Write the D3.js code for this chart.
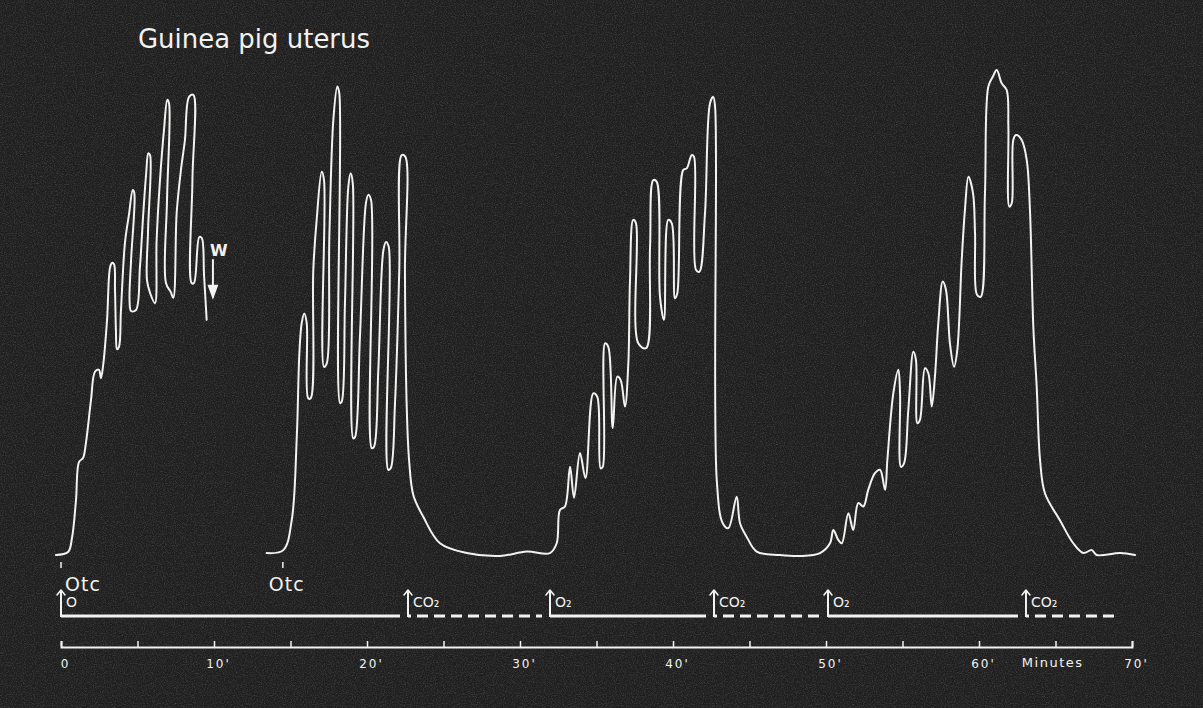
<!DOCTYPE html>
<html>
<head>
<meta charset="utf-8">
<script src="https://cdn.jsdelivr.net/npm/d3@7"></script>
<style>
  html, body { margin: 0; padding: 0; background: #1f1f1f; }
  svg { display: block; }
</style>
</head>
<body>
<svg id="chart" width="1203" height="708"></svg>
<script>
// ---- data -------------------------------------------------------------
const title = "Guinea pig uterus";

// Kymograph record: [time in minutes, lever height in arbitrary units]
// First oxytocin response, interrupted by washout (W)
const run1 = [
  [-0.33, 0.2], [0.46, 0.8], [0.72, 3.7], [0.98, 11.4], [1.18, 19.2], [1.44, 20.0],
  [1.63, 23.1], [1.96, 31.8], [2.22, 37.6], [2.48, 38.0], [2.61, 36.3], [2.75, 38.8],
  [3.01, 48.2], [3.20, 58.8], [3.33, 59.8], [3.46, 59.6], [3.53, 54.3], [3.59, 46.1],
  [3.66, 42.2], [3.79, 42.7], [3.92, 50.2], [4.18, 63.9], [4.44, 69.6], [4.69, 74.7],
  [4.79, 74.1], [4.58, 60.4], [4.48, 52.2], [4.58, 50.0], [4.90, 50.2], [5.16, 59.0],
  [5.38, 70.0], [5.56, 77.8], [5.71, 82.2], [5.82, 81.8], [5.69, 66.5], [5.62, 56.3],
  [5.82, 53.7], [6.14, 51.6], [6.25, 64.5], [6.47, 76.7], [6.73, 86.9], [6.95, 93.1],
  [7.06, 92.4], [6.93, 72.7], [6.86, 55.7], [7.17, 53.9], [7.34, 52.7], [7.56, 70.0],
  [7.84, 78.8], [8.10, 84.9], [8.37, 93.7], [8.65, 94.1], [8.59, 76.7], [8.54, 55.7],
  [8.69, 55.7], [9.04, 65.1], [9.20, 64.9], [9.35, 57.3], [9.52, 48.2]
];

// Second oxytocin response, then alternating O2 / CO2 gassing
const run2 = [
  [13.44, 0.6], [14.53, 1.2], [15.08, 7.3], [15.41, 24.3], [15.58, 41.4], [15.73, 47.5],
  [15.90, 49.5], [16.06, 47.5], [16.16, 32.2], [16.32, 32.2], [16.49, 58.4], [16.71, 68.6],
  [17.04, 78.4], [17.19, 76.7], [17.19, 38.6], [17.37, 39.3], [17.54, 65.2], [17.80, 89.0],
  [18.06, 95.8], [18.19, 94.4], [18.24, 31.2], [18.35, 31.5], [18.56, 51.6], [18.78, 75.4],
  [18.93, 78.1], [19.07, 76.1], [19.10, 24.0], [19.22, 24.3], [19.54, 44.8], [19.93, 72.0],
  [20.08, 73.7], [20.26, 72.7], [20.31, 22.0], [20.46, 22.3], [20.74, 38.0], [21.07, 62.4],
  [21.24, 64.1], [21.42, 63.1], [21.39, 17.6], [21.55, 17.9], [21.83, 31.2], [22.11, 58.4],
  [22.27, 81.8], [22.50, 81.5], [22.48, 58.4], [22.59, 31.2], [22.75, 19.6], [23.03, 12.4],
  [23.68, 8.0], [24.77, 2.6], [26.52, 0.6], [28.69, 0.0], [30.44, 0.9], [31.96, 0.6],
  [32.40, 2.6], [32.61, 9.4], [32.94, 10.1], [33.27, 18.2], [33.53, 11.9], [33.92, 21.0],
  [34.28, 15.9], [34.79, 33.2], [35.05, 32.5], [35.27, 17.9], [35.41, 18.2], [35.56, 43.4],
  [35.77, 42.7], [36.06, 26.1], [36.36, 36.6], [36.58, 35.9], [36.86, 30.5], [37.08, 39.3],
  [37.19, 56.3], [37.40, 68.6], [37.58, 67.9], [37.73, 43.4], [38.24, 42.4], [38.50, 63.1],
  [38.71, 76.7], [38.93, 76.4], [39.15, 52.9], [39.41, 48.2], [39.69, 68.6], [39.92, 67.9],
  [40.13, 52.6], [40.28, 53.6], [40.67, 78.8], [40.90, 79.1], [41.22, 81.8], [41.37, 81.5],
  [41.50, 58.4], [41.72, 58.0], [42.09, 69.9], [42.42, 92.4], [42.63, 93.7], [42.75, 91.7],
  [42.86, 15.5], [43.25, 6.7], [43.62, 5.7], [44.16, 12.1], [44.38, 6.7], [44.82, 3.9],
  [45.47, 0.9], [46.99, 0.2], [48.30, 0.0], [49.61, 0.6], [50.26, 2.6], [50.48, 5.3],
  [50.80, 3.3], [51.03, 2.6], [51.46, 8.7], [51.78, 5.3], [52.11, 10.8], [52.44, 10.1],
  [52.76, 13.5], [53.20, 16.9], [53.53, 17.6], [53.86, 13.5], [54.01, 19.6], [54.40, 33.2],
  [54.73, 38.0], [54.84, 33.2], [54.90, 18.2], [55.10, 18.9], [55.38, 29.8], [55.71, 41.7],
  [55.88, 40.0], [55.97, 27.1], [56.14, 27.8], [56.47, 38.3], [56.69, 37.3], [56.91, 30.5],
  [57.12, 36.6], [57.34, 47.5], [57.63, 56.0], [57.84, 54.3], [58.10, 43.4], [58.37, 38.6],
  [58.58, 42.0], [58.87, 60.4], [59.08, 70.6], [59.31, 77.4], [59.61, 74.0], [59.74, 65.9],
  [59.87, 53.3], [60.11, 52.9], [60.39, 74.0], [60.61, 95.8], [60.90, 97.8], [61.16, 99.2],
  [61.48, 96.5], [61.81, 95.1], [61.92, 87.6], [61.98, 71.3], [62.14, 72.0], [62.24, 84.9],
  [62.42, 85.9], [62.79, 84.9], [63.12, 80.8], [63.33, 70.6], [63.55, 46.8], [63.77, 34.6],
  [63.99, 19.6], [64.31, 12.8], [65.29, 7.3], [66.16, 2.6], [66.82, 0.6], [67.37, 1.2],
  [67.69, 0.2], [69.22, 0.6], [70.20, 0.2]
];

// Oxytocin additions (minutes)
const oxytocinTimes = [0, 14.5];
const oxytocinLabel = "Otc";

// Gas changes: start times and labels; O2 drawn solid, CO2 dashed
const gasTimes  = [0, 22.68, 31.96, 42.68, 50.13, 63.07];
const gasLabels = ["O", "CO₂", "O₂", "CO₂", "O₂", "CO₂"];
const gasEnd = 69.2;

// Washout mark: time and the lever heights spanned by its arrow
const washoutTime = 9.93;
const washoutSpan = [60.4, 52.9];
const washoutLabel = "W";

// Time axis
const tickMinutes = d3.range(0, 71, 5);
const tickLabels  = ["0", "", "10'", "", "20'", "", "30'", "", "40'", "", "50'", "", "60'", "", "70'"];
const axisTitle = "Minutes";

// ---- drawing ----------------------------------------------------------
const W = 1203, H = 708;
const ink = "#f2f2f0";
const font = "'DejaVu Sans', 'Noto Sans', sans-serif";

const svg = d3.select("#chart");

// paper-like grain
const defs = svg.append("defs");
const grain = defs.append("filter").attr("id", "grain").attr("x", 0).attr("y", 0)
  .attr("width", "100%").attr("height", "100%");
grain.append("feTurbulence").attr("type", "fractalNoise").attr("baseFrequency", 0.9)
  .attr("numOctaves", 2).attr("seed", 7).attr("result", "n");
grain.append("feColorMatrix").attr("type", "matrix")
  .attr("values", "0 0 0 0 1  0 0 0 0 1  0 0 0 0 1  0 0 0 0.9 -0.38");

svg.append("rect").attr("width", W).attr("height", H).attr("fill", "#1f1f1f");
svg.append("rect").attr("width", W).attr("height", H).attr("filter", "url(#grain)")
  .attr("opacity", 0.35);

const x = d3.scaleLinear().domain([0, 70]).range([61, 1132]);
const y = d3.scaleLinear().domain([0, 100]).range([556, 66]);

// title
svg.append("text")
  .attr("x", 138).attr("y", 48)
  .attr("fill", ink)
  .attr("font-family", font)
  .attr("font-size", 26)
  .attr("textLength", 232)
  .attr("lengthAdjust", "spacingAndGlyphs")
  .text(title);

// traces
const line = d3.line()
  .x(d => x(d[0]))
  .y(d => y(d[1]))
  .curve(d3.curveCatmullRom.alpha(0.5));

svg.append("g").selectAll("path")
  .data([run1, run2])
  .join("path")
  .attr("d", line)
  .attr("fill", "none")
  .attr("stroke", ink)
  .attr("stroke-width", 2)
  .attr("stroke-linejoin", "round")
  .attr("stroke-linecap", "round");

// washout arrow
const wx = x(washoutTime);
const wy0 = y(washoutSpan[0]), wy1 = y(washoutSpan[1]);
const wg = svg.append("g").attr("stroke", ink).attr("fill", "none")
  .attr("stroke-width", 2).attr("stroke-linecap", "round");
wg.append("line").attr("x1", wx).attr("x2", wx).attr("y1", wy0).attr("y2", wy1);
wg.append("path")
  .attr("d", `M${wx - 4},${wy1 - 11} L${wx},${wy1} L${wx + 4},${wy1 - 11} Z`)
  .attr("fill", ink);
svg.append("text")
  .attr("x", wx + 6).attr("y", wy0 - 4)
  .attr("text-anchor", "middle")
  .attr("fill", ink).attr("font-family", font).attr("font-size", 16)
  .attr("font-weight", "bold")
  .text(washoutLabel);

// oxytocin marks
const otcY = 591;
oxytocinTimes.forEach((t, i) => {
  const ox = x(t);
  svg.append("line").attr("x1", ox).attr("x2", ox).attr("y1", 562).attr("y2", 568)
    .attr("stroke", ink).attr("stroke-width", 1.5);
  svg.append("text")
    .attr("x", i === 0 ? ox + 4 : ox - 14).attr("y", otcY)
    .attr("fill", ink).attr("font-family", font).attr("font-size", 19)
    .attr("letter-spacing", 1)
    .text(oxytocinLabel);
});

// gas signal line
const sigY = 616;
const gasData = gasTimes.map((t, i) => ({
  t, label: gasLabels[i],
  end: i + 1 < gasTimes.length ? gasTimes[i + 1] : gasEnd,
  last: i + 1 >= gasTimes.length,
  co2: gasLabels[i].startsWith("CO")
}));

const sg = svg.append("g");
gasData.forEach(d => {
  const x0 = x(d.t);
  const x1 = d.last ? x(d.end) : x(d.end) - 8;
  sg.append("line")
    .attr("x1", x0).attr("x2", x1).attr("y1", sigY).attr("y2", sigY)
    .attr("stroke", ink).attr("stroke-width", 3)
    .attr("stroke-dasharray", d.co2 ? "3,6,11,6,11,6,11,6,11,6,11,6,11,6,11,6,11,6,11,6,11,6,11,6,11,6" : null);
  // arrow up from the signal line
  sg.append("line").attr("x1", x0).attr("x2", x0).attr("y1", sigY + 1).attr("y2", sigY - 26)
    .attr("stroke", ink).attr("stroke-width", 2);
  sg.append("path")
    .attr("d", `M${x0 - 4},${sigY - 21} L${x0},${sigY - 26} L${x0 + 4},${sigY - 21}`)
    .attr("fill", "none").attr("stroke", ink).attr("stroke-width", 1.6)
    .attr("stroke-linecap", "round").attr("stroke-linejoin", "round");
  sg.append("text")
    .attr("x", x0 + 5).attr("y", sigY - 9)
    .attr("fill", ink).attr("font-family", font).attr("font-size", 14)
    .text(d.label);
});

// time axis, ticks pointing up
const axisY = 647;
const axis = d3.axisBottom(x)
  .tickValues(tickMinutes)
  .tickSizeInner(-6)
  .tickSizeOuter(-6)
  .tickPadding(12)
  .tickFormat((d, i) => tickLabels[i]);

const ag = svg.append("g")
  .attr("transform", `translate(0,${axisY})`)
  .call(axis);
ag.select(".domain").attr("stroke", ink).attr("stroke-width", 2);
ag.selectAll(".tick line").attr("stroke", ink).attr("stroke-width", 1.5);
ag.selectAll(".tick text")
  .attr("fill", ink)
  .attr("font-family", font)
  .attr("font-size", 12)
  .attr("letter-spacing", 2)
  .attr("dx", 4);

svg.append("text")
  .attr("x", x(62.8)).attr("y", axisY + 20)
  .attr("fill", ink).attr("font-family", font).attr("font-size", 13)
  .attr("letter-spacing", 1.5)
  .text(axisTitle);
</script>
</body>
</html>
